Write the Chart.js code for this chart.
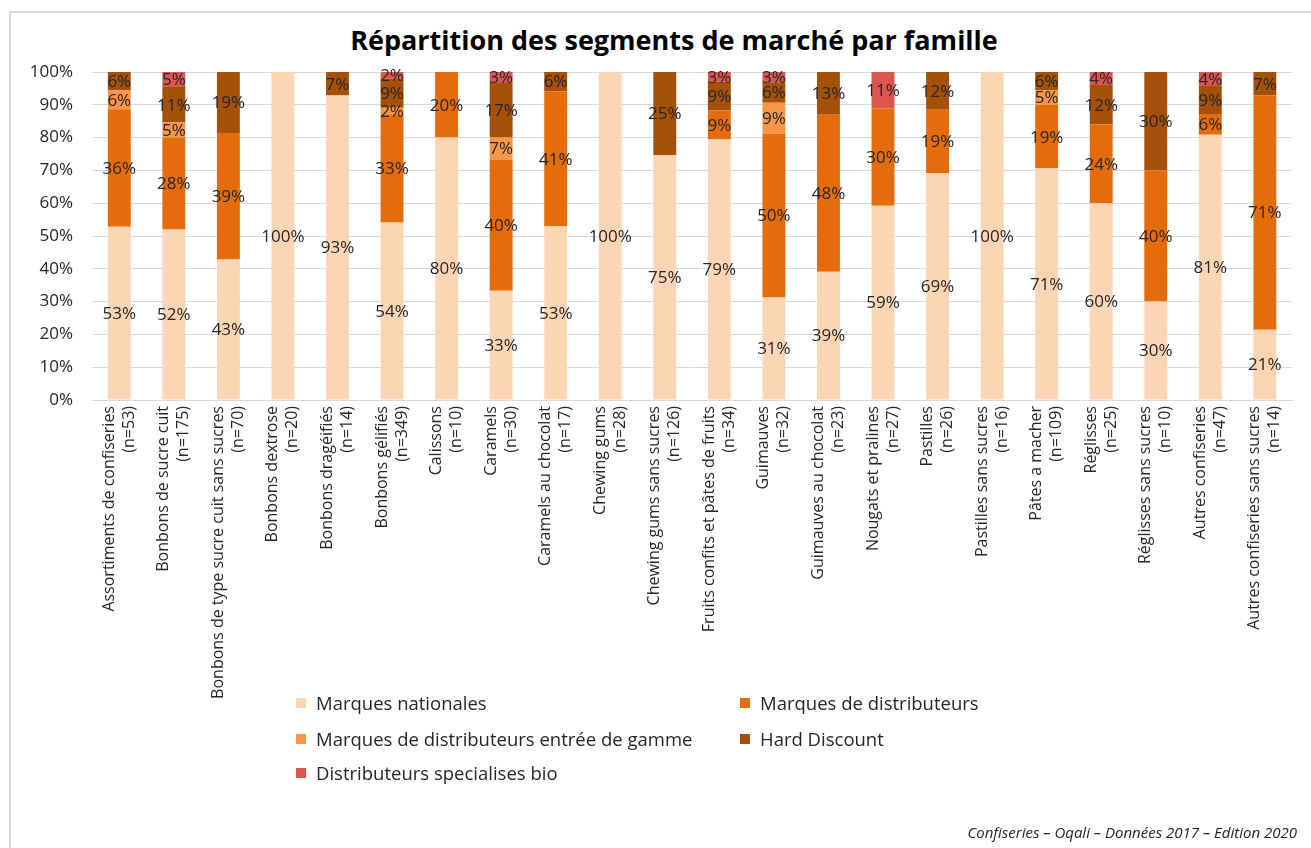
<!DOCTYPE html>
<html>
<head>
<meta charset="utf-8">
<script src="https://cdn.jsdelivr.net/npm/chart.js@4.4.1/dist/chart.umd.min.js"></script>
<style>
    html, body { margin: 0; padding: 0; background: #fff; }
    body { width: 1311px; height: 848px; position: relative; overflow: hidden; font-family: 'Open Sans', sans-serif; }
    #frame { position: absolute; left: 9px; top: 11px; width: 1320px; height: 860px; border-left: 2px solid #d9d9d9; border-top: 2px solid #d9d9d9; }
    #title { position: absolute; left: 0; top: 24px; width: 1348px; text-align: center; font-size: 27px; font-weight: bold; line-height: 32px; color: #000; white-space: nowrap; }
    #wrap { position: absolute; left: 0; top: 0; width: 1311px; height: 700px; }
    #legend { position: absolute; left: 0; top: 0; width: 1311px; height: 848px; pointer-events: none; }
    .item { position: absolute; font-size: 18.5px; color: #262626; line-height: 22px; white-space: nowrap; }
    .item span { position: absolute; left: -20px; top: 6px; width: 10px; height: 10px; }
    #source { position: absolute; right: 14px; top: 822px; font-size: 15px; font-style: italic; color: #262626; }
</style>
</head>
<body>
<div id="frame"></div>
<div id="title">Répartition des segments de marché par famille</div>
<div id="wrap"><canvas id="chart"></canvas></div>
<div id="legend"></div>
<div id="source">Confiseries – Oqali – Données 2017 – Edition 2020</div>
<script>
// Categories (two lines each: family + sample size)
let families = [
    ['Assortiments de confiseries', '(n=53)'],
    ['Bonbons de sucre cuit', '(n=175)'],
    ['Bonbons de type sucre cuit sans sucres', '(n=70)'],
    ['Bonbons dextrose', '(n=20)'],
    ['Bonbons dragéifiés', '(n=14)'],
    ['Bonbons gélifiés', '(n=349)'],
    ['Calissons', '(n=10)'],
    ['Caramels', '(n=30)'],
    ['Caramels au chocolat', '(n=17)'],
    ['Chewing gums', '(n=28)'],
    ['Chewing gums sans sucres', '(n=126)'],
    ['Fruits confits et pâtes de fruits', '(n=34)'],
    ['Guimauves', '(n=32)'],
    ['Guimauves au chocolat', '(n=23)'],
    ['Nougats et pralines', '(n=27)'],
    ['Pastilles', '(n=26)'],
    ['Pastilles sans sucres', '(n=16)'],
    ['Pâtes a macher', '(n=109)'],
    ['Réglisses', '(n=25)'],
    ['Réglisses sans sucres', '(n=10)'],
    ['Autres confiseries', '(n=47)'],
    ['Autres confiseries sans sucres', '(n=14)']
];

// Series values in % (labels shown rounded)
let marquesNationales = [52.83, 52.00, 42.86, 100, 92.86, 54.15, 80, 33.33, 52.94, 100, 74.60, 79.41, 31.25, 39.13, 59.26, 69.23, 100, 70.64, 60, 30, 80.85, 21.43];
let marquesDistributeurs = [35.85, 28.00, 38.57, 0, 0, 32.95, 20, 40.00, 41.18, 0, 0, 8.82, 50.00, 47.83, 29.63, 19.23, 0, 19.27, 24, 40, 6.38, 71.43];
let mddEntreeGamme = [5.66, 4.57, 0, 0, 0, 2.01, 0, 6.67, 0, 0, 0, 0, 9.38, 0, 0, 0, 0, 4.59, 0, 0, 0, 0];
let hardDiscount = [5.66, 10.86, 18.57, 0, 7.14, 8.88, 0, 16.67, 5.88, 0, 25.40, 8.82, 6.25, 13.04, 0, 11.54, 0, 5.50, 12, 30, 8.51, 7.14];
let specialisesBio = [0, 4.57, 0, 0, 0, 2.01, 0, 3.33, 0, 0, 0, 2.94, 3.13, 0, 11.11, 0, 0, 0, 4, 0, 4.26, 0];

let seriesNames = [
    'Marques nationales',
    'Marques de distributeurs',
    'Marques de distributeurs entrée de gamme',
    'Hard Discount',
    'Distributeurs specialises bio'
];
let seriesColors = ['#fcd5b5', '#e46c0a', '#f79646', '#a5510a', '#dc5550'];
let yTicks = [0, 10, 20, 30, 40, 50, 60, 70, 80, 90, 100];

let seriesValues = [marquesNationales, marquesDistributeurs, mddEntreeGamme, hardDiscount, specialisesBio];

// Plugin drawing the percentage inside each segment
let valueLabels = {
    id: 'valueLabels',
    afterDatasetsDraw(chart) {
        let ctx = chart.ctx;
        ctx.save();
        ctx.font = '17px "Open Sans"';
        ctx.fillStyle = '#262626';
        ctx.textAlign = 'center';
        ctx.textBaseline = 'middle';
        chart.data.datasets.forEach((ds, i) => {
            let meta = chart.getDatasetMeta(i);
            meta.data.forEach((bar, j) => {
                let v = ds.data[j];
                if (!v) return;
                let p = bar.getProps(['x', 'y', 'base'], true);
                let top = Math.max(p.y, chart.chartArea.top);
                ctx.fillText(Math.round(v) + '%', p.x, (top + p.base) / 2 + 1);
            });
        });
        ctx.restore();
    }
};

let datasets = [];
for (let i in seriesNames) {
    datasets.push({
        label: seriesNames[i],
        data: seriesValues[i],
        backgroundColor: seriesColors[i],
        borderWidth: 0,
        categoryPercentage: 1,
        barPercentage: 0.42
    });
}

let ctx = document.getElementById('chart');
new Chart(ctx, {
    type: 'bar',
    data: { labels: families, datasets: datasets },
    plugins: [valueLabels],
    options: {
        responsive: true,
        maintainAspectRatio: false,
        animation: false,
        // top padding leaves room for the HTML title above the plot
        layout: { padding: { left: 0, right: 6, top: 72, bottom: 0 } },
        plugins: {
            legend: { display: false },
            tooltip: { enabled: false },
            title: { display: false }
        },
        scales: {
            x: {
                stacked: true,
                grid: { display: false, drawTicks: false },
                border: { display: true, color: '#d9d9d9', width: 1 },
                ticks: {
                    autoSkip: false,
                    minRotation: 90,
                    maxRotation: 90,
                    padding: 6,
                    labelOffset: -10,
                    color: '#262626',
                    font: { family: 'Open Sans', size: 16, lineHeight: 1.25 }
                },
                afterFit: s => { s.height = 300; }
            },
            y: {
                stacked: true,
                min: 0,
                max: 100,
                afterBuildTicks: s => { s.ticks = yTicks.map(v => ({ value: v })); },
                grid: { color: '#d9d9d9', drawTicks: false },
                border: { display: false },
                ticks: {
                    padding: 19,
                    color: '#262626',
                    font: { family: 'Open Sans', size: 17 },
                    callback: v => v + '%'
                },
                afterFit: s => { s.width = 92; }
            }
        }
    }
});

// Legend in two columns, like the original
let legendPos = [[316, 692], [760, 692], [316, 728], [760, 728], [316, 762]];
let legend = document.getElementById('legend');
seriesNames.forEach((name, i) => {
    let el = document.createElement('div');
    el.className = 'item';
    el.style.left = legendPos[i][0] + 'px';
    el.style.top = legendPos[i][1] + 'px';
    el.innerHTML = '<span style="background:' + seriesColors[i] + '"></span>' + name;
    legend.appendChild(el);
});
</script>
</body>
</html>
